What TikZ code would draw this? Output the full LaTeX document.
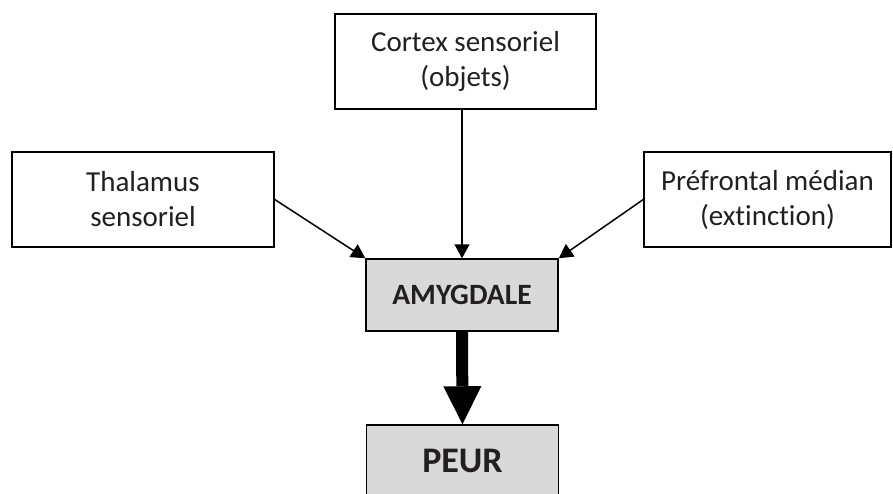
\documentclass[tikz,border=0pt]{standalone}
\usepackage{fontspec}
\setmainfont{Carlito}[Ligatures=NoCommon]
\usepackage{tikz}
\usetikzlibrary{arrows.meta}
\definecolor{boxgray}{RGB}{217,217,217}
\definecolor{textgray}{RGB}{35,31,32}
\tikzset{
sourcebox/.style={draw,line width=1.5pt,minimum height=95pt,inner sep=0pt,align=center,text=textgray,font=\fontsize{29}{35}\selectfont},
graybox/.style={draw,line width=1.5pt,fill=boxgray,minimum width=192pt,minimum height=72pt,inner sep=0pt,text=textgray},
thinarrow/.style={line width=1.5pt,-{Triangle[width=15pt,length=14pt]}},
thickarrow/.style={line width=12pt,-{Triangle[width=38pt,length=38pt,line width=0pt]}}
}
\begin{document}
\begin{tikzpicture}[x=1pt,y=-1pt]
\useasboundingbox (0,0) rectangle (893,493);
\node[sourcebox,minimum width=261pt] (cortex) at (465.5,61.5) {Cortex sensoriel\\(objets)};
\node[sourcebox,minimum width=262pt] (thal) at (143,199.5) {Thalamus\\sensoriel};
\node[sourcebox,minimum width=247pt] (pref) at (767.5,199.5) {Préfrontal médian\\(extinction)};
\node[graybox,font=\bfseries\fontsize{29.5}{35}\selectfont] (amy) at (462,295) {AMYGDALE};
\node[graybox,font=\bfseries\fontsize{36}{43}\selectfont] (peur) at (462.5,461) {PEUR};
\draw[thinarrow] (thal.east) -- (amy.north west);
\draw[thinarrow] (cortex.south -| amy.north) -- (amy.north);
\draw[thinarrow] (pref.west) -- (amy.north east);
\draw[thickarrow] (amy.south) -- (peur.north);
\end{tikzpicture}
\end{document}
